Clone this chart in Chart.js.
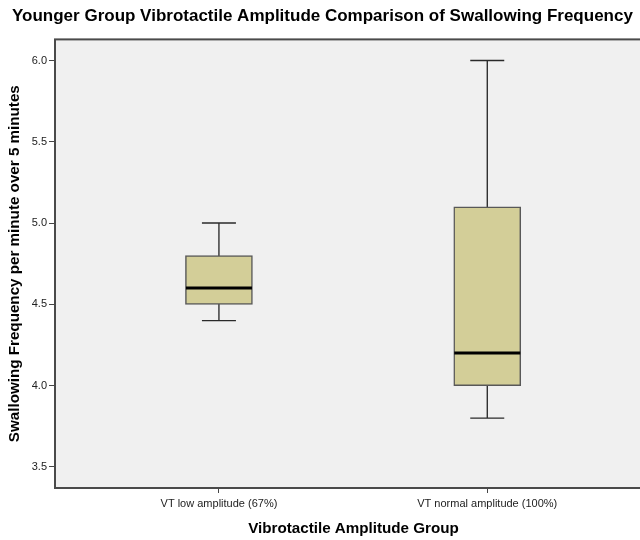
<!DOCTYPE html>
<html>
<head>
<meta charset="utf-8">
<script src="https://cdn.jsdelivr.net/npm/chart.js@4"></script>
<style>
  html, body { margin: 0; padding: 0; background: #ffffff; overflow: hidden; width: 640px; height: 540px; }
  #wrap { position: absolute; left: 0; top: 0; width: 660px; height: 540px; }
</style>
</head>
<body>
<div id="wrap"><canvas id="c"></canvas></div>
<script>
// ---- data ----
const categories = ['VT low amplitude (67%)', 'VT normal amplitude (100%)'];
const minValues = [4.4, 3.8];
const q1Values = [4.5, 4.0];
const medianValues = [4.6, 4.2];
const q3Values = [4.8, 5.1];
const maxValues = [5.0, 6.0];
const yTickValues = [3.5, 4.0, 4.5, 5.0, 5.5, 6.0];

const titleText = 'Younger Group Vibrotactile Amplitude Comparison of Swallowing Frequency';
const xTitle = 'Vibrotactile Amplitude Group';
const yTitle = 'Swallowing Frequency per minute over 5 minutes';

// ---- build datasets ----
const pos = categories.map((c, i) => i + 1);

const boxData = pos.map((x, i) => ({ x: x, y: [q1Values[i], q3Values[i]] }));
const whiskerSets = pos.map((x, i) => ({
  type: 'line',
  data: [{ x: x, y: minValues[i] }, { x: x, y: maxValues[i] }],
  borderColor: '#111111',
  borderWidth: 1.2,
  pointRadius: 0,
  fill: false,
  order: 5
}));
const capData = [];
pos.forEach((x, i) => { capData.push({ x: x, y: minValues[i] }); capData.push({ x: x, y: maxValues[i] }); });
const medianData = pos.map((x, i) => ({ x: x, y: medianValues[i] }));

const frame = {
  id: 'frame',
  beforeDraw(chart) {
    const { ctx, chartArea: a } = chart;
    ctx.save();
    ctx.fillStyle = '#F0F0F0';
    ctx.fillRect(a.left, a.top, a.right - a.left, a.bottom - a.top);
    ctx.restore();
  },
  afterDraw(chart) {
    const { ctx, chartArea: a } = chart;
    ctx.save();
    ctx.strokeStyle = '#4a4a4a';
    ctx.lineWidth = 2;
    ctx.strokeRect(a.left, a.top, a.right - a.left, a.bottom - a.top);
    ctx.restore();
  }
};

new Chart(document.getElementById('c'), {
  type: 'bar',
  data: {
    datasets: [
      {
        type: 'bar',
        data: boxData,
        backgroundColor: '#D3CE98',
        borderColor: '#585858',
        borderWidth: 1.5,
        borderSkipped: false,
        barThickness: 67,
        order: 2
      },
      ...whiskerSets,
      {
        type: 'scatter',
        data: capData,
        pointStyle: 'line',
        pointRadius: 17,
        pointBorderWidth: 1.4,
        pointBorderColor: '#2a2a2a',
        pointBackgroundColor: '#2a2a2a',
        order: 3
      },
      {
        type: 'scatter',
        data: medianData,
        pointStyle: 'line',
        pointRadius: 33,
        pointBorderWidth: 3,
        pointBorderColor: '#000000',
        pointBackgroundColor: '#000000',
        order: 0
      }
    ]
  },
  options: {
    responsive: true,
    maintainAspectRatio: false,
    devicePixelRatio: 1,
    animation: false,
    events: [],
    layout: { autoPadding: false, padding: { left: 12, right: 8, top: 0, bottom: 0 } },
    plugins: {
      legend: { display: false },
      tooltip: { enabled: false },
      title: {
        display: true,
        text: titleText,
        align: 'start',
        color: '#000000',
        font: { family: 'Liberation Sans, Arial, sans-serif', size: 17, weight: 'bold', lineHeight: 1.2 },
        padding: { top: 6, bottom: 13 }
      }
    },
    scales: {
      x: {
        type: 'linear',
        offset: false,
        min: 0.389,
        max: 2.614,
        afterBuildTicks: (s) => { s.ticks = pos.map(v => ({ value: v })); },
        afterFit: (s) => { s.height = 52; s.paddingLeft = 0; s.paddingRight = 0; },
        ticks: {
          callback: (v, i) => categories[i],
          color: '#222222',
          font: { family: 'Liberation Sans, Arial, sans-serif', size: 11 },
          maxRotation: 0,
          autoSkip: false,
          padding: 4
        },
        grid: { offset: false, drawOnChartArea: false, drawTicks: true, tickLength: 5, color: '#444444' },
        border: { display: false },
        title: {
          display: true,
          text: xTitle,
          color: '#000000',
          font: { family: 'Liberation Sans, Arial, sans-serif', size: 15.2, weight: 'bold', lineHeight: 1.2 },
          padding: { top: 0, bottom: 2.4 }
        }
      },
      y: {
        type: 'linear',
        min: 3.37,
        max: 6.13,
        afterBuildTicks: (s) => { s.ticks = yTickValues.map(v => ({ value: v })); },
        afterFit: (s) => { s.width = 43; s.paddingTop = 0; s.paddingBottom = 0; },
        ticks: {
          callback: (v) => Number(v).toFixed(1),
          color: '#222222',
          font: { family: 'Liberation Sans, Arial, sans-serif', size: 11 },
          padding: 2
        },
        grid: { drawOnChartArea: false, drawTicks: true, tickLength: 6, color: '#444444' },
        border: { display: false },
        title: {
          display: true,
          text: yTitle,
          color: '#000000',
          font: { family: 'Liberation Sans, Arial, sans-serif', size: 15.2, weight: 'bold', lineHeight: 1.2 },
          padding: { top: -6.6, bottom: 0 }
        }
      }
    }
  },
  plugins: [frame]
});
</script>
</body>
</html>
